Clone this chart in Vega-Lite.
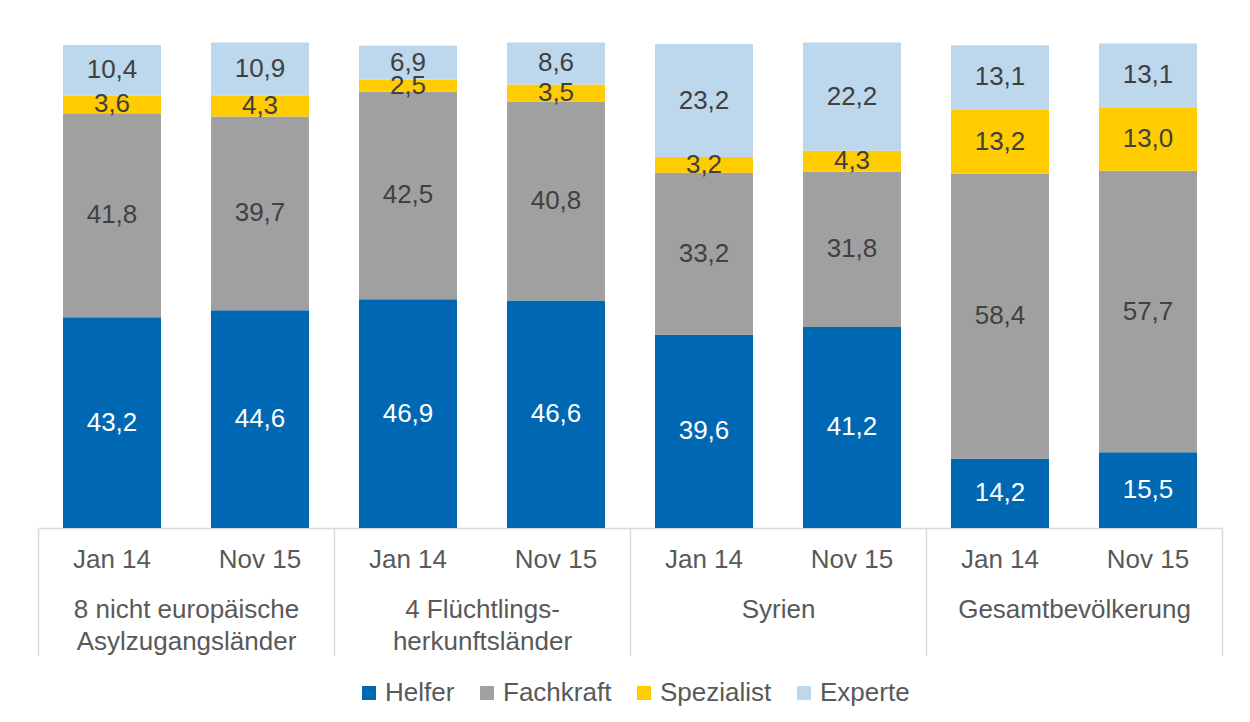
{
  "$schema": "https://vega.github.io/schema/vega-lite/v6.json",
  "autosize": {"type": "none"},
  "width": 1184,
  "height": 488,
  "padding": {"left": 38, "top": 40, "right": 28, "bottom": 194},
  "config": {
    "locale": {"number": {"decimal": ",", "thousands": ".", "grouping": [3], "currency": ["", " €"]}},
    "font": "Liberation Sans",
    "view": {"stroke": null}
  },
  "data": {
    "values": [
      {"g": "8 nicht europäische\nAsylzugangsländer", "p": "Jan 14", "c": "Helfer", "v": 43.2},
      {"g": "8 nicht europäische\nAsylzugangsländer", "p": "Jan 14", "c": "Fachkraft", "v": 41.8},
      {"g": "8 nicht europäische\nAsylzugangsländer", "p": "Jan 14", "c": "Spezialist", "v": 3.6},
      {"g": "8 nicht europäische\nAsylzugangsländer", "p": "Jan 14", "c": "Experte", "v": 10.4},
      {"g": "8 nicht europäische\nAsylzugangsländer", "p": "Nov 15", "c": "Helfer", "v": 44.6},
      {"g": "8 nicht europäische\nAsylzugangsländer", "p": "Nov 15", "c": "Fachkraft", "v": 39.7},
      {"g": "8 nicht europäische\nAsylzugangsländer", "p": "Nov 15", "c": "Spezialist", "v": 4.3},
      {"g": "8 nicht europäische\nAsylzugangsländer", "p": "Nov 15", "c": "Experte", "v": 10.9},
      {"g": "4 Flüchtlings-\nherkunftsländer", "p": "Jan 14", "c": "Helfer", "v": 46.9},
      {"g": "4 Flüchtlings-\nherkunftsländer", "p": "Jan 14", "c": "Fachkraft", "v": 42.5},
      {"g": "4 Flüchtlings-\nherkunftsländer", "p": "Jan 14", "c": "Spezialist", "v": 2.5},
      {"g": "4 Flüchtlings-\nherkunftsländer", "p": "Jan 14", "c": "Experte", "v": 6.9},
      {"g": "4 Flüchtlings-\nherkunftsländer", "p": "Nov 15", "c": "Helfer", "v": 46.6},
      {"g": "4 Flüchtlings-\nherkunftsländer", "p": "Nov 15", "c": "Fachkraft", "v": 40.8},
      {"g": "4 Flüchtlings-\nherkunftsländer", "p": "Nov 15", "c": "Spezialist", "v": 3.5},
      {"g": "4 Flüchtlings-\nherkunftsländer", "p": "Nov 15", "c": "Experte", "v": 8.6},
      {"g": "Syrien", "p": "Jan 14", "c": "Helfer", "v": 39.6},
      {"g": "Syrien", "p": "Jan 14", "c": "Fachkraft", "v": 33.2},
      {"g": "Syrien", "p": "Jan 14", "c": "Spezialist", "v": 3.2},
      {"g": "Syrien", "p": "Jan 14", "c": "Experte", "v": 23.2},
      {"g": "Syrien", "p": "Nov 15", "c": "Helfer", "v": 41.2},
      {"g": "Syrien", "p": "Nov 15", "c": "Fachkraft", "v": 31.8},
      {"g": "Syrien", "p": "Nov 15", "c": "Spezialist", "v": 4.3},
      {"g": "Syrien", "p": "Nov 15", "c": "Experte", "v": 22.2},
      {"g": "Gesamtbevölkerung", "p": "Jan 14", "c": "Helfer", "v": 14.2},
      {"g": "Gesamtbevölkerung", "p": "Jan 14", "c": "Fachkraft", "v": 58.4},
      {"g": "Gesamtbevölkerung", "p": "Jan 14", "c": "Spezialist", "v": 13.2},
      {"g": "Gesamtbevölkerung", "p": "Jan 14", "c": "Experte", "v": 13.1},
      {"g": "Gesamtbevölkerung", "p": "Nov 15", "c": "Helfer", "v": 15.5},
      {"g": "Gesamtbevölkerung", "p": "Nov 15", "c": "Fachkraft", "v": 57.7},
      {"g": "Gesamtbevölkerung", "p": "Nov 15", "c": "Spezialist", "v": 13.0},
      {"g": "Gesamtbevölkerung", "p": "Nov 15", "c": "Experte", "v": 13.1}
    ]
  },
  "transform": [
    {"calculate": "indexof(['Helfer', 'Fachkraft', 'Spezialist', 'Experte'], datum.c)", "as": "rank"}
  ],
  "encoding": {
    "x": {
      "field": "g", "type": "nominal", "sort": null,
      "scale": {"paddingInner": 0, "paddingOuter": 0},
      "axis": {
        "title": null, "labelAngle": 0, "labelFontSize": 26, "labelColor": "#595959",
        "labelExpr": "split(datum.label, '\\n')", "labelLineHeight": 32, "labelBaseline": "top",
        "labelPadding": -59, "labelLimit": 0, "labelOverlap": false,
        "domainColor": "#D9D9D9", "domainWidth": 1.5,
        "tickColor": "#D9D9D9", "tickWidth": 1.5, "tickBand": "extent", "tickSize": 127
      }
    },
    "xOffset": {"field": "p", "type": "nominal", "sort": null, "scale": {"paddingInner": 0.338, "paddingOuter": 0.169}}
  },
  "layer": [
    {
      "mark": {"type": "bar"},
      "encoding": {
        "y": {"field": "v", "type": "quantitative", "stack": "zero", "scale": {"domain": [0, 100]}, "axis": null},
        "order": {"field": "rank", "type": "quantitative", "sort": "ascending"},
        "color": {
          "field": "c", "type": "nominal", "sort": ["Helfer", "Fachkraft", "Spezialist", "Experte"],
          "scale": {"domain": ["Helfer", "Fachkraft", "Spezialist", "Experte"], "range": ["#0068B3", "#A0A0A0", "#FFCC00", "#BDD7EC"]},
          "legend": {
            "title": null, "orient": "none", "legendX": 318, "legendY": 640, "direction": "horizontal",
            "symbolType": "square", "symbolSize": 196, "symbolStrokeWidth": 0,
            "labelFontSize": 26, "labelColor": "#595959", "padding": 0,
            "columnPadding": 19, "labelOffset": 3
          }
        }
      }
    },
    {
      "mark": {"type": "text", "fontSize": 26, "baseline": "middle"},
      "encoding": {
        "y": {"field": "v", "type": "quantitative", "stack": "zero", "bandPosition": 0.5},
        "order": {"field": "rank", "type": "quantitative", "sort": "ascending"},
        "text": {"field": "v", "type": "quantitative", "format": ".1f"},
        "color": {
          "field": "c", "type": "nominal", "sort": ["Helfer", "Fachkraft", "Spezialist", "Experte"],
          "scale": {"domain": ["Helfer", "Fachkraft", "Spezialist", "Experte"], "range": ["#FFFFFF", "#404040", "#404040", "#404040"]},
          "legend": null
        }
      }
    },
    {
      "transform": [{"filter": "datum.c == 'Helfer'"}],
      "mark": {"type": "text", "fontSize": 26, "baseline": "middle", "dy": 32, "color": "#595959"},
      "encoding": {
        "y": {"datum": 0, "type": "quantitative"},
        "text": {"field": "p", "type": "nominal"}
      }
    }
  ],
  "resolve": {"scale": {"color": "independent"}}
}
